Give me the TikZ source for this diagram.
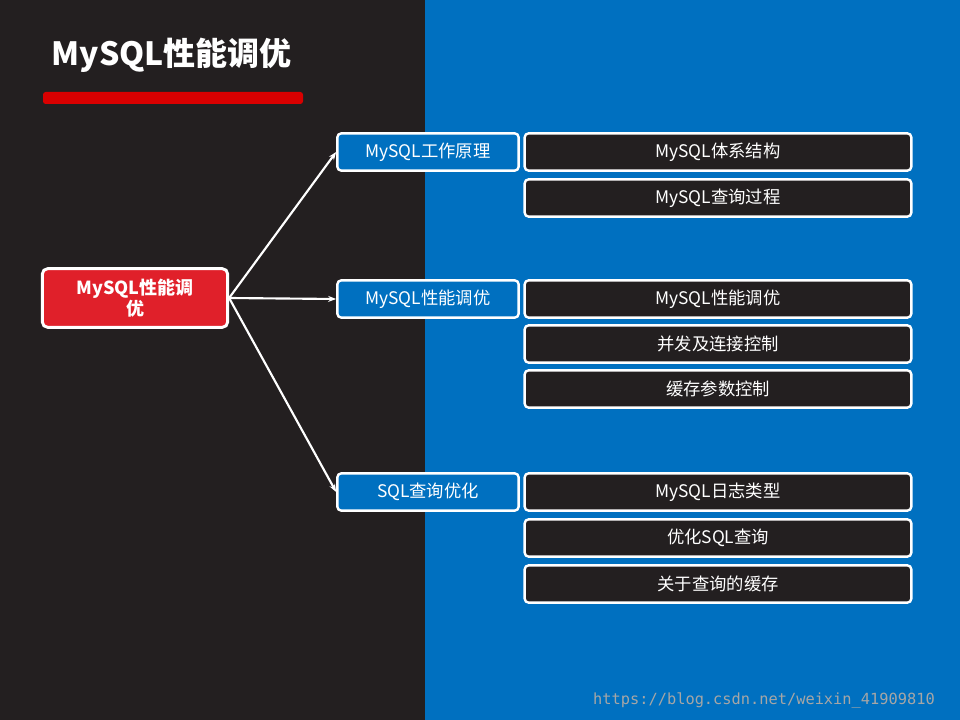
\documentclass[tikz,border=0pt]{standalone}
\usepackage{fontspec}
\setmainfont{Noto Sans CJK SC}
\newfontfamily\monofont{DejaVu Sans Mono}
\usetikzlibrary{arrows.meta,positioning}

\definecolor{darkbg}{HTML}{231F20}
\definecolor{bluebg}{HTML}{0070C0}
\definecolor{redfill}{HTML}{E0202A}

\tikzset{
  rootbox/.style={draw=white, line width=2.2pt, fill=redfill, rounded corners=4pt,
    minimum width=139pt, minimum height=44pt, text width=120pt, align=center,
    text=white, font=\fontsize{13.5}{14}\selectfont\bfseries},
  midbox/.style={draw=white, line width=1.8pt, fill=bluebg, rounded corners=3pt,
    minimum width=136pt, minimum height=28pt, text=white, font=\fontsize{13}{15}\selectfont},
  leafbox/.style={draw=white, line width=1.8pt, fill=darkbg, rounded corners=3pt,
    minimum width=290pt, minimum height=28pt, text=white, font=\fontsize{13}{15}\selectfont},
  link/.style={draw=white, line width=1.6pt, -{Stealth[length=6pt]}}
}

\begin{document}
\begin{tikzpicture}[x=0.75pt, y=-0.75pt]
\useasboundingbox (0,0) rectangle (960,720);
\fill[darkbg] (0,0) rectangle (425,720);
\fill[bluebg] (425,0) rectangle (960,720);

% title
\node[anchor=west, text=white, font=\fontsize{24}{26}\selectfont\bfseries] (title) at (47,55) {MySQL性能调优};
\fill[red!85!black, rounded corners=2pt] (43,92) rectangle (303,104);

% root
\node[rootbox] (root) at (135,298) {MySQL性能调\\优};

% middle level
\node[midbox] (work) at (428,152) {MySQL工作原理};
\node[midbox] (tune) at (428,299) {MySQL性能调优};
\node[midbox] (query) at (428,492) {SQL查询优化};

% leaves
\node[leafbox] (arch) at (718,152) {MySQL体系结构};
\node[leafbox] (proc) at (718,198) {MySQL查询过程};
\node[leafbox] (perf) at (718,299) {MySQL性能调优};
\node[leafbox] (conn) at (718,344) {并发及连接控制};
\node[leafbox] (cache) at (718,389) {缓存参数控制};
\node[leafbox] (logs) at (718,492) {MySQL日志类型};
\node[leafbox] (opt) at (718,538) {优化SQL查询};
\node[leafbox] (qcache) at (718,584) {关于查询的缓存};

% links
\draw[link] (root.east) -- (work.west);
\draw[link] (root.east) -- (tune.west);
\draw[link] (root.east) -- (query.west);

\node[text=gray!70, font=\monofont\fontsize{11.5}{13}\selectfont] (mark) at (764,700) {https://blog.csdn.net/weixin\_41909810};
\end{tikzpicture}
\end{document}
